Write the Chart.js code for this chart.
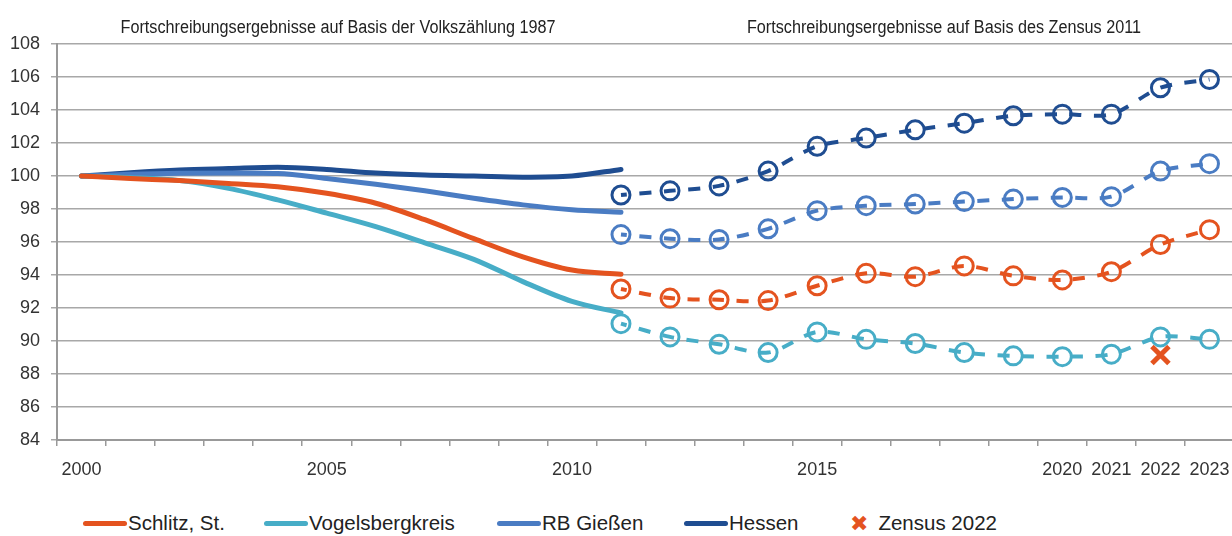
<!DOCTYPE html>
<html lang="de">
<head>
<meta charset="utf-8">
<title>Bevölkerungsentwicklung</title>
<script src="https://cdn.jsdelivr.net/npm/chart.js@4.4.1/dist/chart.umd.min.js"></script>
<style>
  html, body { margin: 0; padding: 0; background: #fff; overflow: hidden; }
  body {
    width: 1232px; height: 536px; position: relative;
    font-family: "Liberation Sans Narrow", "Arial Narrow", "Liberation Sans", sans-serif;
  }
  #wrap { position: absolute; left: 0; top: 0; width: 1234px; height: 490px; }
  .title {
    position: absolute; top: 17px; font-size: 18px; color: #222;
    white-space: nowrap; transform: translateX(-50%) scaleX(0.9);
  }
  .legend-item {
    position: absolute; top: 509px; height: 28px; display: flex; align-items: center;
    font-size: 20.5px; color: #222; white-space: nowrap;
  }
  .legend-item .swatch { width: 44px; height: 5px; border-radius: 3px; margin-right: 1px; }
  .legend-item .cross { font-size: 22px; font-weight: bold; margin-right: 10px; font-family: "DejaVu Sans", sans-serif; }
</style>
</head>
<body>
<div id="wrap"><canvas id="chart"></canvas></div>
<div class="title" style="left:338px">Fortschreibungsergebnisse auf Basis der Volkszählung 1987</div>
<div class="title" style="left:944px">Fortschreibungsergebnisse auf Basis des Zensus 2011</div>
<div id="legend"></div>
<script>
  // years on the category axis
  const years = ["2000", "2001", "2002", "2003", "2004", "2005", "2006", "2007", "2008", "2009", "2010", "2011",
    "2012", "2013", "2014", "2015", "2016", "2017", "2018", "2019", "2020", "2021", "2022", "2023"];
  const shownYears = ["2000", "2005", "2010", "2015", "2020", "2021", "2022", "2023"];

  // Fortschreibung auf Basis der Volkszählung 1987 (2000 - 2011), Index 2000 = 100
  const schlitzVz = [100, 99.85, 99.72, 99.55, 99.35, 98.95, 98.35, 97.35, 96.2, 95.1, 94.3, 94.05];
  const vogelsbergVz = [100, 99.9, 99.72, 99.25, 98.55, 97.75, 96.93, 95.95, 94.95, 93.6, 92.4, 91.7];
  const giessenVz = [100, 100.1, 100.16, 100.18, 100.15, 99.85, 99.5, 99.1, 98.65, 98.25, 97.95, 97.8];
  const hessenVz = [100, 100.2, 100.36, 100.45, 100.53, 100.4, 100.18, 100.06, 100.0, 99.93, 100.0, 100.4];

  // Fortschreibung auf Basis des Zensus 2011 (2011 - 2023)
  const schlitzZ11 = [93.15, 92.6, 92.5, 92.45, 93.35, 94.1, 93.9, 94.55, 93.95, 93.7, 94.2, 95.85, 96.75];
  const vogelsbergZ11 = [91.05, 90.25, 89.8, 89.3, 90.55, 90.1, 89.85, 89.3, 89.1, 89.05, 89.2, 90.25, 90.1];
  const giessenZ11 = [96.45, 96.2, 96.15, 96.8, 97.9, 98.2, 98.3, 98.45, 98.6, 98.7, 98.75, 100.3, 100.75];
  const hessenZ11 = [98.85, 99.1, 99.4, 100.3, 101.8, 102.3, 102.8, 103.2, 103.65, 103.75, 103.75, 105.35, 105.85];

  // Zensus 2022 result for Schlitz
  const zensusYear = "2022";
  const zensus2022 = 89.15;

  const colors = {
    schlitz: "#e4531f",
    vogelsberg: "#47adc7",
    giessen: "#4a7cc3",
    hessen: "#1f4d91",
  };

  const series = [
    { label: "Schlitz, St.", color: colors.schlitz, vz: schlitzVz, z11: schlitzZ11 },
    { label: "Vogelsbergkreis", color: colors.vogelsberg, vz: vogelsbergVz, z11: vogelsbergZ11 },
    { label: "RB Gießen", color: colors.giessen, vz: giessenVz, z11: giessenZ11 },
    { label: "Hessen", color: colors.hessen, vz: hessenVz, z11: hessenZ11 },
  ];

  const firstZ11 = years.indexOf("2011");
  const padVz = (arr) => years.map((_, i) => (i < arr.length ? arr[i] : null));
  const padZ11 = (arr) => years.map((_, i) => (i >= firstZ11 ? arr[i - firstZ11] : null));

  const datasets = [];
  series.forEach((s) => {
    datasets.push({
      label: s.label,
      data: padVz(s.vz),
      borderColor: s.color,
      borderWidth: 5,
      borderCapStyle: "round",
      cubicInterpolationMode: "monotone",
      pointRadius: 0,
      spanGaps: false,
    });
    datasets.push({
      label: s.label + " (Zensus 2011)",
      data: padZ11(s.z11),
      borderColor: s.color,
      borderWidth: 4,
      borderDash: [12, 12.5],
      borderDashOffset: 6,
      tension: 0.3,
      pointStyle: "circle",
      pointRadius: 9,
      pointBorderWidth: 3,
      pointBorderColor: s.color,
      pointBackgroundColor: "rgba(255,255,255,0)",
      spanGaps: false,
    });
  });
  datasets.push({
    label: "Zensus 2022",
    data: years.map((y) => (y === zensusYear ? zensus2022 : null)),
    showLine: false,
    pointStyle: "crossRot",
    pointRadius: 12,
    pointBorderWidth: 5,
    pointBorderColor: colors.schlitz,
    borderColor: colors.schlitz,
  });

  const fontFamily = '"Liberation Sans Narrow", "Arial Narrow", "Liberation Sans", sans-serif';
  const gridColor = "#a8a8a8";

  new Chart(document.getElementById("chart"), {
    type: "line",
    data: { labels: years, datasets },
    options: {
      responsive: true,
      maintainAspectRatio: false,
      animation: false,
      layout: { autoPadding: false, padding: { top: 44, right: 0, bottom: 0, left: 0 } },
      plugins: {
        legend: { display: false },
        tooltip: { enabled: false },
      },
      scales: {
        x: {
          type: "category",
          offset: true,
          grid: {
            offset: true,
            drawOnChartArea: false,
            drawTicks: true,
            tickLength: 6,
            color: "#999",
            lineWidth: 1.5,
          },
          border: { color: "#999", width: 2 },
          ticks: {
            autoSkip: false,
            maxRotation: 0,
            padding: 13,
            color: "#333",
            font: { family: fontFamily, size: 18 },
            callback: (v, i) => (shownYears.includes(years[i]) ? years[i] : ""),
          },
          afterFit: (scale) => {
            scale.height = 50;
            scale.paddingLeft = 0;
            scale.paddingRight = 0;
          },
        },
        y: {
          min: 84,
          max: 108,
          grid: {
            color: gridColor,
            lineWidth: 1.5,
            tickLength: 6,
          },
          border: { color: "#999", width: 2 },
          ticks: {
            stepSize: 2,
            padding: 11,
            color: "#333",
            font: { family: fontFamily, size: 18 },
          },
          afterFit: (scale) => { scale.width = 57; },
        },
      },
    },
  });

  // legend below the chart
  const legendItems = [
    { label: "Schlitz, St.", color: colors.schlitz, left: 83, type: "line" },
    { label: "Vogelsbergkreis", color: colors.vogelsberg, left: 264, type: "line" },
    { label: "RB Gießen", color: colors.giessen, left: 497, type: "line" },
    { label: "Hessen", color: colors.hessen, left: 684, type: "line" },
    { label: "Zensus 2022", color: colors.schlitz, left: 850, type: "cross" },
  ];
  const legend = document.getElementById("legend");
  legendItems.forEach((item) => {
    const el = document.createElement("div");
    el.className = "legend-item";
    el.style.left = item.left + "px";
    if (item.type === "line") {
      const sw = document.createElement("span");
      sw.className = "swatch";
      sw.style.background = item.color;
      el.appendChild(sw);
    } else {
      const cr = document.createElement("span");
      cr.className = "cross";
      cr.style.color = item.color;
      cr.textContent = "\u2716";
      el.appendChild(cr);
    }
    const txt = document.createElement("span");
    txt.textContent = item.label;
    el.appendChild(txt);
    legend.appendChild(el);
  });
</script>
</body>
</html>
